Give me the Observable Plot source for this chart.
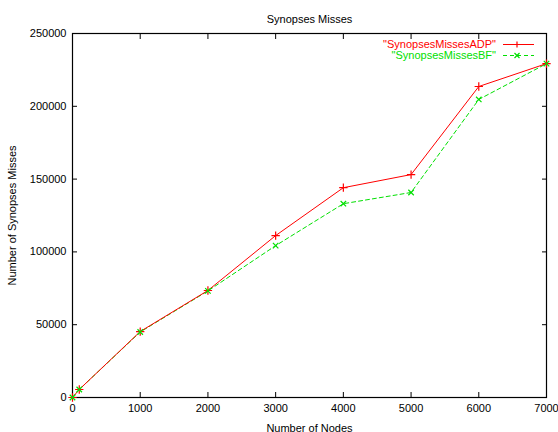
<!DOCTYPE html>
<html>
<head>
<meta charset="utf-8">
<script src="https://cdn.jsdelivr.net/npm/d3@7"></script>
<script src="https://cdn.jsdelivr.net/npm/@observablehq/plot@0.6"></script>
<style>
  html, body { margin: 0; padding: 0; background: #fff; }
  #chart svg { display: block; }
</style>
</head>
<body>
<div id="chart"></div>
<script>
const nodes = [0, 100, 1000, 2000, 3000, 4000, 5000, 6000, 7000];
const adpMisses = [0, 5500, 45300, 73500, 111200, 144100, 153100, 213600, 229300];
const bfMisses  = [0, 5500, 45000, 73200, 104300, 133100, 140800, 204700, 229300];
const xTicks = [0, 1000, 2000, 3000, 4000, 5000, 6000, 7000];
const yTicks = [0, 50000, 100000, 150000, 200000, 250000];
const seriesNames = ["\"SynopsesMissesADP\"", "\"SynopsesMissesBF\""];
const titleText = "Synopses Misses";
const xLabel = "Number of Nodes";
const yLabel = "Number of Synopses Misses";

const RED = "#ff0000";
const GREEN = "#00e000";
const font = "Liberation Sans, Arial, sans-serif";
const FS = 11;

const adp = nodes.map((n, i) => ({x: n, y: adpMisses[i]}));
const bf = nodes.map((n, i) => ({x: n, y: bfMisses[i]}));

const plot = Plot.plot({
  width: 558,
  height: 432,
  marginLeft: 72,
  marginRight: 12,
  marginTop: 33,
  marginBottom: 35,
  style: {fontFamily: font, fontSize: FS + "px", color: "#000", background: "#fff"},
  x: {domain: [0, 7000]},
  y: {domain: [0, 250000]},
  marks: [
    Plot.frame({stroke: "#000", strokeWidth: 1.2}),
    Plot.axisX({anchor: "bottom", ticks: xTicks, tickFormat: d3.format("d"), tickSize: -5, tickPadding: 12,
      label: xLabel, labelArrow: "none", labelAnchor: "center", labelOffset: 34, fontSize: FS}),
    Plot.axisX({anchor: "top", ticks: xTicks, tickSize: -5, text: null, label: null}),
    Plot.axisY({anchor: "left", ticks: yTicks, tickFormat: d3.format("d"), tickSize: -5, tickPadding: 11,
      label: yLabel, labelArrow: "none", labelAnchor: "center", labelOffset: 64, fontSize: FS}),
    Plot.axisY({anchor: "right", ticks: yTicks, tickSize: -5, text: null, label: null}),
    Plot.line(bf, {x: "x", y: "y", stroke: GREEN, strokeWidth: 1, strokeDasharray: "4,3"}),
    Plot.line(adp, {x: "x", y: "y", stroke: RED, strokeWidth: 1}),
    Plot.dot(adp, {x: "x", y: "y", symbol: "plus", r: 2.8, stroke: RED, strokeWidth: 1.2}),
    Plot.dot(bf, {x: "x", y: "y", symbol: "times", r: 2.6, stroke: GREEN, strokeWidth: 1.2}),
    Plot.text([titleText], {frameAnchor: "top", dy: -18, fontSize: FS, fill: "#000"})
  ]
});

document.getElementById("chart").appendChild(plot);

// Legend (gnuplot style, top-right inside the frame)
const svgSel = d3.select(plot);
const frameRight = 558 - 12;
const frameTop = 33;
const legendItems = [
  {name: seriesNames[0], color: RED, dash: null, sym: "+"},
  {name: seriesNames[1], color: GREEN, dash: "4,3", sym: "x"}
];
const lg = svgSel.append("g").attr("font-family", font).attr("font-size", FS);
legendItems.forEach((it, i) => {
  const ly = frameTop + 11.5 + i * 11;
  lg.append("text").attr("x", frameRight - 50).attr("y", ly).attr("dy", "0.35em")
    .attr("text-anchor", "end").attr("fill", it.color).text(it.name);
  lg.append("line").attr("x1", frameRight - 43).attr("x2", frameRight - 12).attr("y1", ly).attr("y2", ly)
    .attr("stroke", it.color).attr("stroke-width", 1).attr("stroke-dasharray", it.dash);
  const cx = frameRight - 29;
  if (it.sym === "+") {
    lg.append("path").attr("d", `M${cx-3},${ly}H${cx+3}M${cx},${ly-3}V${ly+3}`).attr("stroke", it.color).attr("stroke-width", 1.2);
  } else {
    lg.append("path").attr("d", `M${cx-2.5},${ly-2.5}L${cx+2.5},${ly+2.5}M${cx-2.5},${ly+2.5}L${cx+2.5},${ly-2.5}`).attr("stroke", it.color).attr("stroke-width", 1.2);
  }
});
</script>
</body>
</html>
